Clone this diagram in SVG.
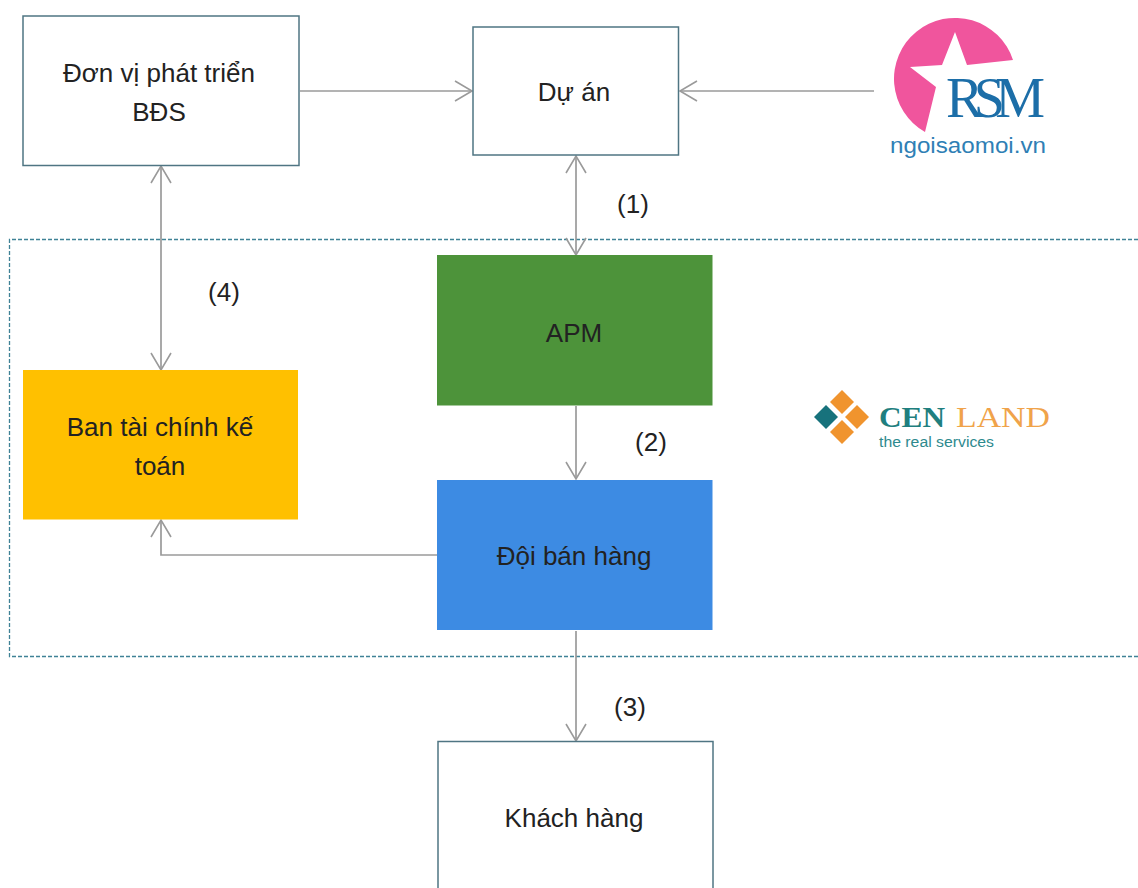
<svg xmlns="http://www.w3.org/2000/svg" width="1138" height="888" viewBox="0 0 1138 888">
<defs>
<marker id="open" markerUnits="userSpaceOnUse" viewBox="-20 -12 22 24" markerWidth="22" markerHeight="24" refX="0" refY="0" orient="auto-start-reverse"><path d="M-17,-10 L0,0 L-17,10" fill="none" stroke="#9a9a9a" stroke-width="1.6"/></marker>
</defs>
<style>
text{font-family:"Liberation Sans",Arial,sans-serif;font-size:26px;fill:#222;text-anchor:middle}
.box{fill:#fff;stroke:#4f7583;stroke-width:1.5}
.c{fill:none;stroke:#9a9a9a;stroke-width:1.7}
.a{marker-end:url(#open)}
.b{marker-start:url(#open);marker-end:url(#open)}
</style>
<rect width="1138" height="888" fill="#fff"/>
<path d="M1138,239.500H9.500V656.500H1138" fill="none" stroke="#3f8296" stroke-width="1.3" stroke-dasharray="4 2"/>
<g id="connectors">
<path class="c a" d="M300,91H472"/>
<path class="c a" d="M874,91H680"/>
<path class="c b" d="M576,156V255"/>
<path class="c b" d="M161,166V370"/>
<path class="c a" d="M576,406V479"/>
<path class="c a" d="M437,555H161V520"/>
<path class="c a" d="M576,631V741"/>
</g>
<g id="node-developer"><rect class="box" x="23" y="16" width="276" height="149.500"/><text x="159" y="82">Đơn vị phát triển</text><text x="159" y="121">BĐS</text></g>
<g id="node-project"><rect class="box" x="473" y="27" width="205.500" height="128"/><text x="574" y="101">Dự án</text></g>
<g id="node-apm"><rect x="437" y="255" width="275.500" height="150.500" fill="#4d933a"/><text x="574" y="342">APM</text></g>
<g id="node-finance"><rect x="23" y="370" width="275" height="149.500" fill="#ffc000"/><text x="160" y="436">Ban tài chính kế</text><text x="160" y="475">toán</text></g>
<g id="node-sales"><rect x="437" y="480" width="275.500" height="150" fill="#3d8be3"/><text x="574" y="565">Đội bán hàng</text></g>
<g id="node-customer"><rect class="box" x="438" y="741.500" width="275" height="160"/><text x="574" y="827">Khách hàng</text></g>
<g id="labels"><text x="633" y="213">(1)</text><text x="651" y="451">(2)</text><text x="630" y="716">(3)</text><text x="224" y="301">(4)</text></g>
<g id="logo-rsm">
<path d="M925,132 A61,61 0 1 1 1013,60 L967,65 L955,32 L942,65 L910,67 L936,87 Z" fill="#f0559d"/>
<text x="946" y="117" textLength="99" lengthAdjust="spacing" style="font-family:'Liberation Serif',serif;font-size:56px;fill:#1c6ea8;text-anchor:start">RSM</text>
<text x="890" y="153" textLength="156" lengthAdjust="spacingAndGlyphs" style="font-size:22px;fill:#2f7fb5;text-anchor:start">ngoisaomoi.vn</text>
</g>
<g id="logo-cenland">
<path d="M842,390L854,402L842,414L830,402Z" fill="#f0942e"/>
<path d="M826,405L838,417L826,429L814,417Z" fill="#17727c"/>
<path d="M857,405L869,417L857,429L845,417Z" fill="#f0942e"/>
<path d="M842,420L854,432L842,444L830,432Z" fill="#f0942e"/>
<text x="879" y="427" textLength="66" lengthAdjust="spacingAndGlyphs" style="font-family:'Liberation Serif',serif;font-weight:bold;font-size:29px;fill:#1f7f7f;text-anchor:start">CEN</text>
<text x="956" y="427" textLength="94" lengthAdjust="spacingAndGlyphs" style="font-family:'Liberation Serif',serif;font-size:29px;fill:#f0a34a;text-anchor:start">LAND</text>
<text x="879" y="447" textLength="115" lengthAdjust="spacingAndGlyphs" style="font-size:14px;fill:#2e8a8e;text-anchor:start">the real services</text>
</g>
</svg>
